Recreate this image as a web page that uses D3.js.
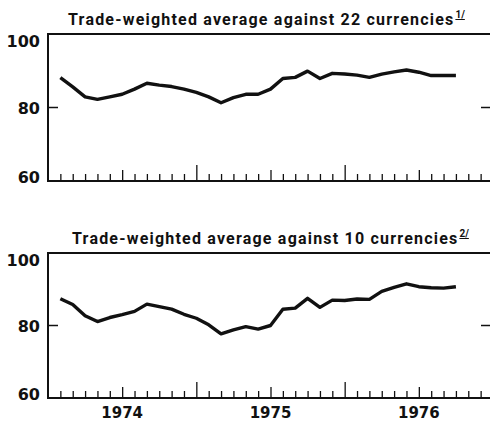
<html>
<head>
<script src="https://cdn.jsdelivr.net/npm/d3@7"></script>
<style>
  body { margin: 0; background: #fff; }
  svg { display: block; }
  text { font-family: "DejaVu Sans", sans-serif; font-weight: bold; fill: #111; }
  .title { font-family: Roboto, "DejaVu Sans", sans-serif; font-size: 16px; letter-spacing: 1.2px; }
  .line { fill: none; stroke: #111; stroke-width: 3.4px; stroke-linejoin: round; }
  .frame { stroke: #111; stroke-width: 2px; fill: none; }
</style>
</head>
<body>
<script>
// data: month offsets since Jan 1974 (point plotted at month boundary)
var months = d3.range(1, 34);   // Feb 1974 .. Oct 1976
var avg22 = [88.1, 85.6, 82.9, 82.2, 82.9, 83.6, 85.0, 86.6, 86.1, 85.7, 85.0,
             84.1, 82.9, 81.3, 82.7, 83.6, 83.6, 85.0, 87.9, 88.2, 89.9, 87.9,
             89.3, 89.1, 88.8, 88.2, 89.1, 89.7, 90.2, 89.6, 88.7, 88.7, 88.7];
var avg10 = [87.4, 85.8, 82.7, 81.1, 82.2, 83.0, 83.9, 85.9, 85.2, 84.5, 83.1,
             82.0, 80.2, 77.7, 78.8, 79.7, 79.0, 80.0, 84.5, 84.8, 87.5, 85.0,
             87.0, 86.9, 87.3, 87.2, 89.4, 90.5, 91.5, 90.7, 90.4, 90.3, 90.7];
var yTicks = [60, 80, 100];
var years = ["1974", "1975", "1976"];

var W = 490, H = 421;
var svg = d3.select("body").append("svg").attr("width", W).attr("height", H);

// x: months 0 (Jan 1974) .. 36 (Jan 1977)
var x = d3.scaleLinear().domain([0, 36]).range([48, 493]);

var panels = [
  { title: "Trade-weighted average against 22 currencies", note: "1/", values: avg22,
    top: 34, bottom: 181, titleY: 25, titleX: 68 },
  { title: "Trade-weighted average against 10 currencies", note: "2/", values: avg10,
    top: 253, bottom: 398, titleY: 244, titleX: 72 }
];

panels.forEach(function(p, i) {
  var y = d3.scaleLinear().domain([60, 100]).range([p.bottom, p.top]);
  var g = svg.append("g");

  // frame: top, left, bottom
  g.append("path").attr("class", "frame")
    .attr("d", "M" + x(36) + "," + y(100) + "H" + x(0) + "V" + y(60) + "H" + x(36));

  // month ticks pointing up from the bottom axis
  var xa = g.append("g").attr("transform", "translate(0," + y(60) + ")")
    .call(d3.axisBottom(x).tickValues(d3.range(1, 36)).tickSize(-7).tickFormat(""));
  xa.select(".domain").remove();
  xa.selectAll(".tick line")
    .attr("stroke", "#111").attr("stroke-width", 1.3)
    .attr("y2", function(d) { return d % 12 === 0 ? -16 : d % 6 === 0 ? -11 : -7; });

  // 80 ticks on both sides
  g.append("line").attr("class", "frame").attr("x1", x(0)).attr("x2", x(0) + 10)
    .attr("y1", y(80)).attr("y2", y(80)).style("stroke-width", 1.5);
  g.append("line").attr("class", "frame").attr("x1", x(36) - 12).attr("x2", x(36))
    .attr("y1", y(80)).attr("y2", y(80)).style("stroke-width", 1.5);

  // y labels
  g.selectAll(".ylab").data(yTicks).enter().append("text")
    .attr("class", "ylab")
    .attr("x", 40)
    .attr("y", function(d) { return y(d) + (d === 100 ? 12.5 : d === 60 ? 1.5 : 6); })
    .attr("text-anchor", "end")
    .style("font-size", "16px")
    .text(function(d) { return d; });

  // title with footnote mark
  var t = g.append("text").attr("class", "title")
    .attr("x", p.titleX).attr("y", p.titleY);
  t.append("tspan").text(p.title);
  t.append("tspan")
    .attr("dx", 1).attr("dy", -7)
    .style("font-size", "10px")
    .style("letter-spacing", "0px")
    .style("text-decoration", "underline")
    .text(p.note);

  // series line
  var line = d3.line()
    .x(function(d, j) { return x(months[j]); })
    .y(function(d) { return y(d); });
  g.append("path").datum(p.values).attr("class", "line").attr("d", line);

  // year labels under the bottom panel
  if (i === 1) {
    g.selectAll(".year").data(years).enter().append("text")
      .attr("class", "year")
      .attr("x", function(d, j) { return x(6 + 12 * j); })
      .attr("y", y(60) + 20)
      .attr("text-anchor", "middle")
      .style("font-size", "15px")
      .text(function(d) { return d; });
  }
});
</script>
</body>
</html>
